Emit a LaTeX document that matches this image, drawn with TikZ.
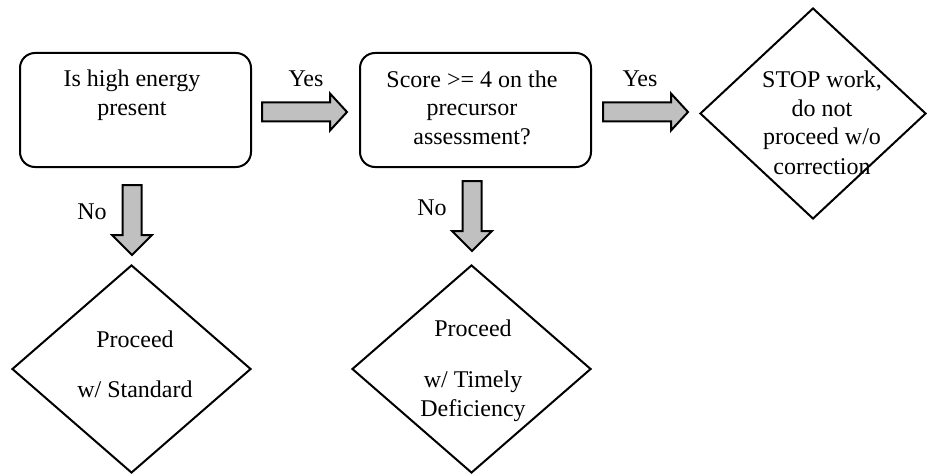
\documentclass[tikz,border=0pt]{standalone}
\usepackage{fontspec}
\setmainfont{Liberation Serif}
\usetikzlibrary{shapes.geometric}

\tikzset{
  decision/.style={draw, line width=1.5pt, shape=diamond, inner sep=0pt, line join=miter},
  question/.style={draw, line width=1.5pt, rectangle, rounded corners=11.25pt, inner sep=0pt},
  caption/.style={align=center, anchor=base, inner sep=0pt,
    font=\fontsize{18pt}{21.75pt}\selectfont},
  blockarrow/.style={draw, line width=1.5pt, fill=arrowgray, line join=miter},
  pics/rightblock/.style={code={
    \path[blockarrow] (-85,-9.5) -- (-17,-9.5) -- (-17,-18.5) -- (0,0)
      -- (-17,18.5) -- (-17,9.5) -- (-85,9.5) -- cycle;}},
  pics/downblock/.style={code={
    \path[blockarrow] (-9.5,-70) -- (9.5,-70) -- (9.5,-20) -- (20,-20) -- (0,0)
      -- (-20,-20) -- (-9.5,-20) -- cycle;}},
}
\definecolor{arrowgray}{HTML}{C0C0C0}

\begin{document}
\begin{tikzpicture}[x=0.75pt, y=-0.75pt]
  \useasboundingbox (0,0) rectangle (927,474);

  % decision boxes on the top row
  \node[question, minimum width=173.25pt, minimum height=85.5pt] (energy) at (135.5,110) {};
  \node[question, minimum width=173.25pt, minimum height=85.5pt] (score) at (475.5,110) {};

  % outcome diamonds
  \node[decision, minimum width=169.5pt, minimum height=158.25pt] (stop) at (813,113.5) {};
  \node[decision, minimum width=179.25pt, minimum height=156pt] (standard) at (131.5,369) {};
  \node[decision, minimum width=179.25pt, minimum height=156pt] (timely) at (471.5,369) {};

  % texts (a multi-line node sits on the baseline of its last line)
  \node[caption] (energytext) at (132,116) {Is high energy\\present};
  \node[caption] (scoretext) at (472,145) {Score >= 4 on the\\precursor\\assessment?};
  \node[caption] (stoptext) at (822,174) {STOP work,\\do not\\proceed w/o\\correction};
  \node[caption] (standardtext) at (135,397) {Proceed\\[15.75pt]w/ Standard};
  \node[caption] (timelytext) at (473,416) {Proceed\\[16.5pt]w/ Timely\\Deficiency};

  % block arrows between the steps
  \pic at (347,112) {rightblock};
  \pic at (688,112) {rightblock};
  \pic at (132,255) {downblock};
  \pic at (472,251) {downblock};

  % arrow labels
  \node[caption] (yes1) at (306,87) {Yes};
  \node[caption] (yes2) at (640,87) {Yes};
  \node[caption] (no1) at (92,219) {No};
  \node[caption] (no2) at (432,215) {No};
\end{tikzpicture}
\end{document}
